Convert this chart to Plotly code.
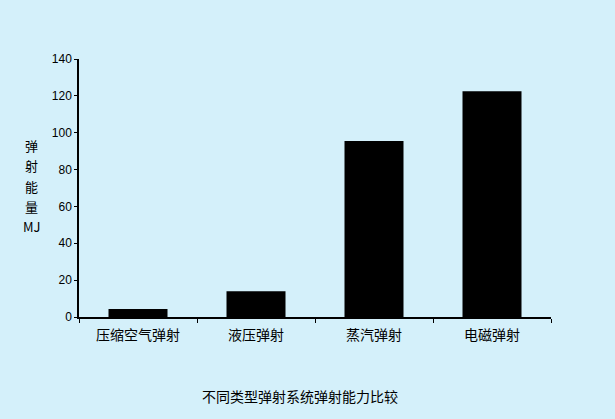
import plotly.graph_objects as go

categories = ["压缩空气弹射", "液压弹射", "蒸汽弹射", "电磁弹射"]
values = [4.3, 14.0, 95.5, 122.5]
y_ticks = [0, 20, 40, 60, 80, 100, 120, 140]
y_title_chars = ["弹", "射", "能", "量", "MJ"]
title_text = "不同类型弹射系统弹射能力比较"

bg = "#d4f0fa"
cjk = "Noto Sans CJK SC"

fig = go.Figure(go.Bar(
    x=categories, y=values, width=0.5,
    marker=dict(color="black", line=dict(width=0)),
))

annotations = []
for i, ch in enumerate(y_title_chars):
    annotations.append(dict(
        text=ch, xref="paper", yref="paper",
        x=-0.1, y=0.665 - i * 0.079, xanchor="center", yanchor="middle",
        showarrow=False, font=dict(family=cjk, size=13, color="black")))
annotations.append(dict(
    text=title_text, xref="paper", yref="paper",
    x=0.468, y=-0.305, xanchor="center", yanchor="middle", showarrow=False,
    font=dict(family=cjk, size=14, color="black")))

fig.update_layout(
    width=615, height=419,
    paper_bgcolor=bg, plot_bgcolor=bg,
    margin=dict(l=79, r=64, t=59, b=102),
    showlegend=False,
    xaxis=dict(
        type="category", range=[-0.5, 3.5],
        showline=True, linecolor="black", linewidth=1.5,
        ticks="outside", tickson="boundaries", ticklen=4, tickcolor="black",
        ticklabelstandoff=4,
        showgrid=False, zeroline=False,
        tickfont=dict(family=cjk, size=14, color="black"),
    ),
    yaxis=dict(
        range=[0, 140], tickvals=y_ticks,
        showline=True, linecolor="black", linewidth=1.5,
        ticks="outside", ticklen=3, tickcolor="black",
        showgrid=False, zeroline=False,
        tickfont=dict(family="Liberation Sans", size=12, color="black"),
    ),
    annotations=annotations,
)

fig.write_html(
    "out.html",
    config={"displayModeBar": False},
    post_script="document.body.style.margin='0';document.body.style.background='#d4f0fa';",
)
